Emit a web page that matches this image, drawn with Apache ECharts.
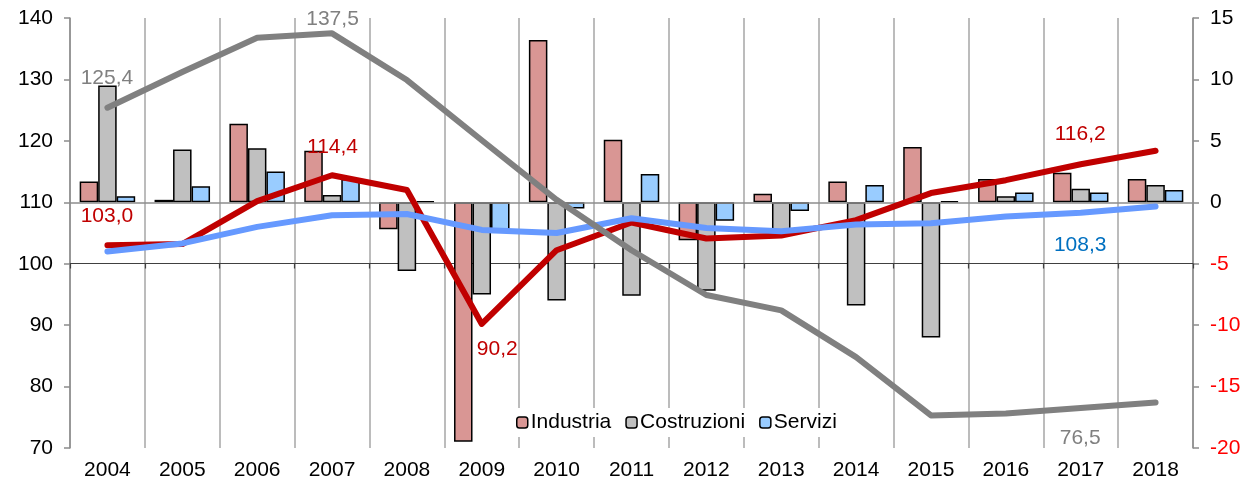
<!DOCTYPE html>
<html>
<head>
<meta charset="utf-8">
<script src="https://cdn.jsdelivr.net/npm/echarts@6/dist/echarts.min.js"></script>
<style>html,body{margin:0;padding:0;background:#fff;}#c{width:1250px;height:484px;}</style>
</head>
<body>
<div id="c"></div>
<script>
const years = ['2004','2005','2006','2007','2008','2009','2010','2011','2012','2013','2014','2015','2016','2017','2018'];
// percent changes (right axis)
const indGrowth   = [1.7, 0.2, 6.4, 4.2, -2.2, -19.5, 13.2, 5.1, -3.1, 0.7, 1.7, 4.5, 1.9, 2.4, 1.9];
const costrGrowth = [9.5, 4.3, 4.4, 0.6, -5.6, -7.5, -8.0, -7.6, -7.2, -2.3, -8.4, -11.0, 0.5, 1.1, 1.4];
const servGrowth  = [0.5, 1.3, 2.5, 1.9, 0.1, -2.4, -0.5, 2.3, -1.5, -0.7, 1.4, 0.1, 0.8, 0.8, 1.0];
// index levels (left axis)
const indIndex   = [103.0, 103.2, 110.2, 114.4, 112.0, 90.2, 102.2, 106.7, 104.1, 104.6, 107.1, 111.5, 113.6, 116.2, 118.4];
const costrIndex = [125.4, 131.2, 136.8, 137.5, 129.9, 120.1, 110.4, 102.2, 94.9, 92.4, 84.8, 75.3, 75.6, 76.5, 77.4];
const servIndex  = [102.0, 103.3, 106.0, 107.9, 108.1, 105.5, 105.0, 107.4, 105.8, 105.3, 106.4, 106.6, 107.7, 108.3, 109.3];
const seriesNames = ['Industria', 'Costruzioni', 'Servizi'];
const leftTicks = {min: 70, max: 140, interval: 10};
const rightTicks = {min: -20, max: 15, interval: 5};

const FONT = 'Liberation Sans, Arial, sans-serif';
const FS = 21;
const fmt = v => String(Number(v).toFixed(1)).replace('.', ',');

function labelled(values, labels, color) {
  return values.map((v, i) => {
    if (!labels[i]) return v;
    return {
      value: v,
      label: {
        show: true, position: labels[i], align: 'center', verticalAlign: 'middle',
        formatter: p => fmt(p.value), color: color, fontSize: FS, fontFamily: FONT
      }
    };
  });
}

const chart = echarts.init(document.getElementById('c'), null, {renderer: 'canvas'});
const barBorder = {borderColor: '#000', borderWidth: 1.5};
function lineSeries(name, data, color, z) {
  return {
    name: name, type: 'line', yAxisIndex: 0, data: data,
    showSymbol: true, symbol: 'circle', symbolSize: 1,
    lineStyle: {color: color, width: 6, cap: 'round', join: 'round'},
    itemStyle: {color: 'rgba(0,0,0,0)', borderWidth: 0},
    label: {show: false},
    labelLayout: {hideOverlap: false},
    emphasis: {disabled: true}, z: z
  };
}
const option = {
  animation: false,
  textStyle: {fontFamily: FONT},
  grid: {left: 70, right: 57, top: 18, bottom: 36, containLabel: false},
  legend: {
    data: seriesNames, left: 512, top: 408,
    backgroundColor: '#fff', padding: [4, 4],
    itemWidth: 11, itemHeight: 11, itemGap: 14,
    textStyle: {fontSize: FS, color: '#000', fontFamily: FONT, padding: [0, 0, 0, -2]},
    itemStyle: {borderColor: '#000', borderWidth: 1.5}
  },
  xAxis: [
    {
      type: 'category', data: years, position: 'bottom',
      axisLine: {show: false}, axisTick: {show: false},
      axisLabel: {fontSize: FS, color: '#000', margin: 12, fontFamily: FONT},
      splitLine: {show: true, lineStyle: {color: '#a6a6a6', width: 1.5}}
    },
    {
      type: 'category', data: years, position: 'bottom', offset: -184.5,
      axisLine: {show: true, lineStyle: {color: '#404040', width: 1.2}},
      axisTick: {show: true, length: 5, lineStyle: {color: '#404040', width: 1.2}},
      axisLabel: {show: false}, splitLine: {show: false}
    }
  ],
  yAxis: [
    {
      type: 'value', position: 'left', min: leftTicks.min, max: leftTicks.max, interval: leftTicks.interval,
      axisLine: {show: true, lineStyle: {color: '#8c8c8c', width: 1.5}},
      axisTick: {show: true, length: 6, lineStyle: {color: '#8c8c8c', width: 1.5}},
      axisLabel: {fontSize: FS, color: '#000', margin: 17, fontFamily: FONT},
      splitLine: {show: false}
    },
    {
      type: 'value', position: 'right', min: rightTicks.min, max: rightTicks.max, interval: rightTicks.interval,
      axisLine: {show: true, lineStyle: {color: '#8c8c8c', width: 1.5}},
      axisTick: {show: true, length: 6, lineStyle: {color: '#8c8c8c', width: 1.5}},
      axisLabel: {fontSize: FS, margin: 17, fontFamily: FONT,
        color: v => (Number(v) < 0 ? '#ff0000' : '#000')},
      splitLine: {show: false}
    }
  ],
  series: [
    {
      name: seriesNames[0], type: 'bar', yAxisIndex: 1, data: indGrowth,
      barWidth: 18.5, barGap: '0%',
      itemStyle: Object.assign({color: '#d99694'}, barBorder),
      markLine: {
        silent: true, symbol: 'none', label: {show: false},
        lineStyle: {color: '#8c8c8c', width: 1.5, type: 'solid'},
        data: [{yAxis: 0}]
      },
      z: 3
    },
    {
      name: seriesNames[1], type: 'bar', yAxisIndex: 1, data: costrGrowth,
      barWidth: 18.5, barGap: '0%',
      itemStyle: Object.assign({color: '#c0c0c0'}, barBorder), z: 3
    },
    {
      name: seriesNames[2], type: 'bar', yAxisIndex: 1, data: servGrowth,
      barWidth: 18.5, barGap: '0%',
      itemStyle: Object.assign({color: '#99ccff'}, barBorder), z: 3
    },
    lineSeries('IndLine', labelled(indIndex, {
        0: [0, -29],
        3: [1, -28],
        5: [16, 26],
        13: [0, -29]
      }, '#c00000'), '#c00000', 5),
    lineSeries('ServLine', labelled(servIndex, {
        13: [0, 33]
      }, '#0070c0'), '#6699ff', 6),
    lineSeries('CostrLine', labelled(costrIndex, {
        0: [0, -29],
        3: [1, -14],
        13: [0, 31]
      }, '#808080'), '#808080', 7)
  ]
};
chart.setOption(option);
</script>
</body>
</html>
